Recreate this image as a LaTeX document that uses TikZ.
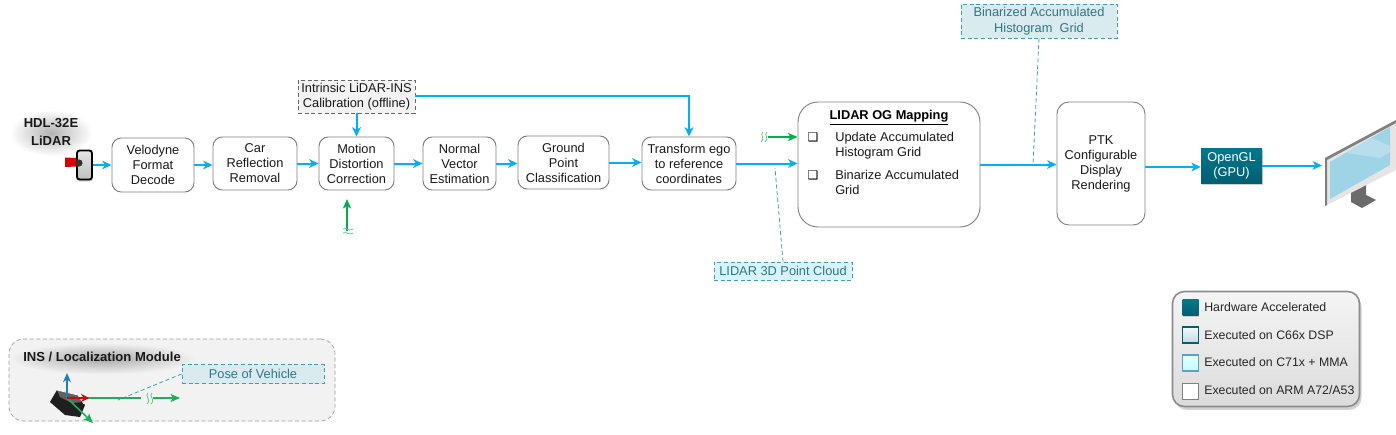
\documentclass[tikz,border=0pt]{standalone}
\usepackage{fontspec}
\setmainfont{Liberation Sans}
\newfontfamily\symfont{DejaVu Sans}
\usetikzlibrary{shadows,fadings,arrows.meta,calc}
\definecolor{flow}{HTML}{00B0F0}
\definecolor{grn}{HTML}{00B050}
\definecolor{teal}{HTML}{00788C}
\definecolor{tealdk}{HTML}{005F73}
\definecolor{notebd}{HTML}{3E9FB2}
\definecolor{notetx}{HTML}{2F7686}
\definecolor{screenc}{HTML}{9FD3E6}
\definecolor{axisb}{HTML}{1E7CC4}
\definecolor{axisg}{HTML}{1CB05A}
\tikzfading[name=softblob, inner color=transparent!70, outer color=transparent!100]
\tikzset{
  sz/.style 2 args={minimum width=#1*0.75pt, minimum height=#2*0.75pt, inner sep=0pt},
  base/.style={align=center, font=\fontsize{9.6}{11.25}\selectfont, text=black!90},
  procbox/.style={base, draw=black!50, line width=0.7pt, rounded corners=7pt, fill=white},
  bigbox/.style={base, draw=black!50, line width=0.7pt, rounded corners=15pt, fill=white},
  flowarrow/.style={draw=flow, line width=1.5pt, -{Stealth[length=7pt,width=6.5pt,inset=2pt]}},
  grnarrow/.style={draw=grn, line width=1.2pt, -{Stealth[length=7pt,width=6pt,inset=1.5pt]}},
  notebox/.style={base, draw=notebd, densely dashed, line width=0.6pt, fill=#1, text=notetx},
  notebox/.default={teal!15},
  noteline/.style={draw=notebd, densely dashed, line width=0.6pt},
  leg/.style={anchor=west, inner sep=0pt, font=\fontsize{9.25}{11}\selectfont, text=black!85},
  swatch/.style={sz={16}{16}, line width=1pt},
  squig/.style={draw=axisg!70, line width=0.6pt},
  heading/.style={align=center, inner sep=0pt, font=\fontsize{9.8}{13.5}\selectfont\bfseries, text=black!90}
}
\begin{document}
\begin{tikzpicture}[x=0.75pt,y=-0.75pt]
\useasboundingbox (0,0) rectangle (1396,435);
\fill[white] (0,0) rectangle (1396,435);

% INS panel
\node[draw=black!40, densely dashed, line width=0.5pt, fill=black!5, rounded corners=11pt, sz={326}{82}] (ins) at (172,380) {};
\fill[black, path fading=softblob] (10,343) rectangle (195,374);
\node[heading, anchor=west] (institle) at (23,357) {INS / Localization Module};
\node[notebox={teal!15}, sz={142}{19}] (pose) at (253,374) {Pose of Vehicle};

% INS sensor body
\fill[black!88] (50,402) -- (57,390) -- (78,395) -- (85,405) -- (80,417) -- (65,415) -- cycle;
\fill[black!62] (57,390) -- (78,395) -- (83,402) -- (72,403) -- (60,397) -- cycle;
\draw[white, line width=0.6pt] (57,390) -- (78,395) -- (84,404);
\coordinate (org) at (67,398);
\coordinate (ztip) at (67,373);
\coordinate (xtip) at (89,398);
\coordinate (ytip) at (93,423);
\coordinate (gmid) at (141,398);
\coordinate (poseend) at (118,400);
\coordinate (gs) at (153,398);
\coordinate (ge) at (180,398);
\draw[noteline] (pose.west) -- (poseend);
\draw[draw=axisg, line width=1.3pt] (org) -- (gmid);
\draw[grnarrow, draw=axisg] (org) -- (ytip);
\draw[draw=axisb, line width=1.3pt, -{Stealth[length=7pt,width=6pt]}] (org) -- (ztip);
\draw[draw=red!85!black, line width=1.3pt, -{Stealth[length=6pt,width=6pt]}] (org) -- (xtip);
\draw[grnarrow, draw=axisg, line width=0.9pt] (gs) -- (ge);
\draw[squig] (148,393) .. controls (144,396) and (152,399) .. (147,404);
\draw[squig] (152,393) .. controls (148,396) and (156,399) .. (151,404);

% LiDAR sensor
\fill[black, path fading=softblob] (10,110) rectangle (92,156);
\node[heading] (lidarname) at (51,132) {HDL-32E\\LiDAR};
\fill[red!85!black] (65,157.5) -- (77,158) -- (77,166.5) -- (65,167) -- cycle;
\node[draw=black, line width=1.4pt, rounded corners=2pt, top color=black!10, bottom color=black!25, sz={15}{29}, drop shadow={shadow xshift=0.5pt,shadow yshift=-1.5pt,opacity=.35}] (sensor) at (84.5,165) {};
\fill[black!80] (79,163) circle[radius=3.6];

% Processing boxes
\node[procbox, sz={82}{54}] (velo) at (153,165) {Velodyne\\Format\\Decode};
\node[procbox, sz={84}{53}] (car) at (255,163.5) {Car\\Reflection\\Removal};
\node[procbox, sz={75}{53}] (motion) at (356.5,163.5) {Motion\\Distortion\\Correction};
\node[procbox, sz={73}{53}] (normal) at (459.5,163.5) {Normal\\Vector\\Estimation};
\node[procbox, sz={91}{53}] (ground) at (563.5,162.5) {Ground\\Point\\Classification};
\node[procbox, sz={94}{53}] (transform) at (689,163.5) {Transform ego\\to reference\\coordinates};
\node[bigbox, sz={182}{125}] (og) at (889,164.5) {};
\node[procbox, rounded corners=9pt, sz={88}{123}] (ptk) at (1101,163.5) {PTK\\Configurable\\Display\\Rendering};
\node[base, text=white, top color=teal, bottom color=tealdk, sz={61}{35}, drop shadow={shadow xshift=1pt,shadow yshift=-1.5pt,opacity=.35}] (gl) at (1231.5,165.5) {OpenGL\\(GPU)};

% OG contents
\node[inner sep=0pt, font=\fontsize{9.6}{11}\selectfont\bfseries, text=black] (ogtitle) at (889,118) {\underline{LIDAR OG Mapping}};
\node[inner sep=0pt, font=\fontsize{9}{9}\symfont\bfseries] (b1) at (813,137.5) {\symbol{"2751}};
\node[base, anchor=west, align=left, inner sep=0pt] (t1) at (835,145.5) {Update Accumulated\\Histogram Grid};
\node[inner sep=0pt, font=\fontsize{9}{9}\symfont\bfseries] (b2) at (813,175) {\symbol{"2751}};
\node[base, anchor=west, align=left, inner sep=0pt] (t2) at (835,182.5) {Binarize Accumulated\\Grid};

% Notes
\node[base, draw=black!60, densely dashed, line width=0.5pt, fill=black!5, sz={117}{33}] (intr) at (356.5,96.5) {Intrinsic LiDAR-INS\\Calibration (offline)};
\node[notebox={teal!15}, font=\fontsize{9.6}{11.8}\selectfont, sz={156}{34}] (bin) at (1039,21) {Binarized Accumulated\\Histogram\ \ Grid};
\node[notebox={cyan!15}, sz={138}{18}] (pc) at (783,271) {LIDAR 3D Point Cloud};

% Monitor
\fill[black!58] (1351,192) -- (1366,183) -- (1366,195) -- (1376,200) -- (1362,208) -- (1351,202) -- cycle;
\fill[black!10] (1325,158) -- (1396,120) -- (1396,170) -- (1325,206) -- cycle;
\fill[black!50] (1325,158) -- (1396,120) -- (1396,123) -- (1327,160) -- (1327,205) -- (1325,206) -- cycle;
\fill[screenc] (1330,162) -- (1390,127) -- (1390,165) -- (1330,199) -- cycle;
\fill[white, opacity=.25] (1346,153) -- (1372,138) -- (1390,146) -- (1390,152) -- (1380,158) -- cycle;
\coordinate (mon) at (1322,166);

% Flow connectors
\draw[flowarrow] (sensor.east) -- (sensor.east -| velo.west);
\draw[flowarrow] (velo.east) -- (velo.east -| car.west);
\draw[flowarrow] (car.east) -- (motion.west);
\draw[flowarrow] (motion.east) -- (normal.west);
\draw[flowarrow] (normal.east) -- (normal.east -| ground.west);
\draw[flowarrow] (ground.east) -- (ground.east -| transform.west);
\draw[flowarrow] (transform.east) -- (transform.east -| og.west);
\draw[flowarrow] (og.east) -- (og.east -| ptk.west);
\coordinate (ptkout) at ($(ptk.east)+(0,3.5)$);
\draw[flowarrow] (ptkout) -- (ptkout -| gl.west);
\draw[flowarrow] (gl.east) -- (gl.east -| mon);
\draw[flowarrow] (intr.south) -- (intr.south |- motion.north);
\coordinate (intrright) at ($(intr.east)+(0,0)$);
\draw[flowarrow] (intrright) -| (transform.north);

% Green inputs
\coordinate (ginA) at (347,231);
\coordinate (ginB) at (347,199);
\draw[grnarrow] (ginA) -- (ginB);
\draw[squig] (343,229) .. controls (346,227) and (349,232) .. (353,229);
\draw[squig] (343,233) .. controls (346,231) and (349,236) .. (353,233);
\coordinate (gogs) at (768,137);
\draw[grnarrow] (gogs) -- (gogs -| og.west);
\draw[squig] (763,132) .. controls (759,135) and (766,138) .. (761,142);
\draw[squig] (767,132) .. controls (763,135) and (770,138) .. (765,142);

% Note leaders
\coordinate (pctap) at (775,168);
\draw[noteline] (pc.north) -- (pctap);
\coordinate (bintap) at (1033,165);
\draw[noteline] (bin.south) -- (bintap);

% Legend
\node[draw=black!45, line width=1.2pt, rounded corners=9pt, top color=black!4, bottom color=black!14, sz={187}{115}, drop shadow={shadow xshift=1.5pt,shadow yshift=-2.5pt,opacity=.35}] (legend) at (1266,349) {};
\node[swatch, top color=teal, bottom color=tealdk, drop shadow={shadow xshift=.5pt,shadow yshift=-1pt,opacity=.3}] (s1) at (1190.5,307.5) {};
\node[swatch, draw=tealdk, top color=teal!5, bottom color=teal!25, drop shadow={shadow xshift=.5pt,shadow yshift=-1pt,opacity=.3}] (s2) at (1190.5,335) {};
\node[swatch, draw=cyan!70!black!80, top color=cyan!10, bottom color=cyan!25, drop shadow={shadow xshift=.5pt,shadow yshift=-1pt,opacity=.3}] (s3) at (1190.5,363) {};
\node[swatch, draw=black!50, line width=.6pt, fill=white] (s4) at (1190.5,391) {};
\node[leg] (l1) at (1204,307) {Hardware Accelerated};
\node[leg] (l2) at (1204,335) {Executed on C66x DSP};
\node[leg] (l3) at (1204,362) {Executed on C71x + MMA};
\node[leg] (l4) at (1204,390) {Executed on ARM A72/A53};
\end{tikzpicture}
\end{document}
